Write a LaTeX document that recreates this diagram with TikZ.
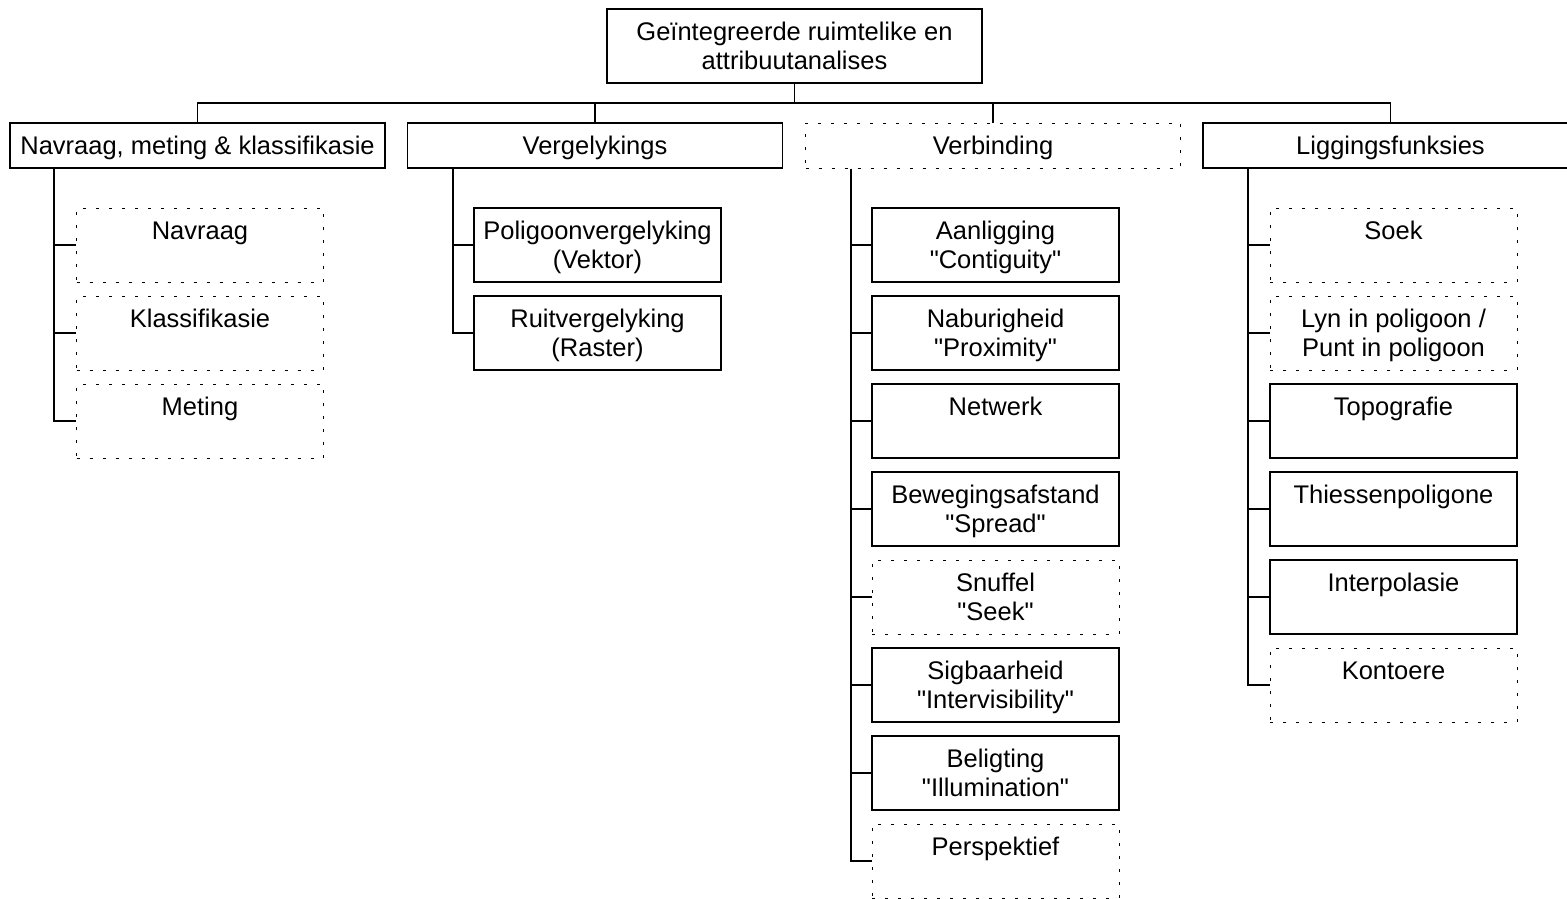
\documentclass[tikz,border=0pt]{standalone}
\usepackage{fontspec}
\setmainfont{Liberation Sans}[Ligatures=TeXOff]
\newcommand\mytab[1]{\begin{tabular}[t]{@{}c@{}}#1\end{tabular}}
\begin{document}
\begin{tikzpicture}[x=1pt,y=-1pt,
  txt/.style={inner sep=0pt, font=\fontsize{25.5}{29}\selectfont},
  two/.style={text height=20pt, text depth=31pt},
  one/.style={text height=17.6pt, text depth=0pt},
  topbox/.style={txt, two, draw, line width=1.8pt, minimum width=375pt, minimum height=74pt},
  headbox/.style={txt, one, draw, line width=1.8pt, minimum width=375pt, minimum height=45pt},
  headdot/.style={txt, one, draw, line width=1pt, dash pattern=on 3pt off 10pt, minimum width=375pt, minimum height=45pt},
  leafbox/.style={txt, two, draw, line width=1.8pt, minimum width=247pt, minimum height=74pt},
  leafdot/.style={txt, two, draw, line width=1pt, dash pattern=on 3pt off 10pt, minimum width=247pt, minimum height=74pt},
  conn/.style={draw, line width=1.8pt}]
\useasboundingbox (0,0) rectangle (1567,899);
\clip (0,0) rectangle (1567,899);
\fill[white] (0,0) rectangle (1567,899);

% top
\node[topbox] (top) at (794.5,46) {\mytab{Geïntegreerde ruimtelike en\\attribuutanalises}};
% level 1
\node[headbox] (h1) at (197.5,145.5) {Navraag, meting \& klassifikasie};
\node[headbox] (h2) at (595,145.5) {Vergelykings};
\node[headdot] (h3) at (993,145.5) {Verbinding};
\node[headbox] (h4) at (1390.5,145.5) {Liggingsfunksies};

% column 1
\node[leafdot] (a1) at (200,245) {\mytab{Navraag}};
\node[leafdot] (a2) at (200,333) {\mytab{Klassifikasie}};
\node[leafdot] (a3) at (200,421) {\mytab{Meting}};
% column 2
\node[leafbox] (b1) at (597.5,245) {\mytab{Poligoonvergelyking\\(Vektor)}};
\node[leafbox] (b2) at (597.5,333) {\mytab{Ruitvergelyking\\(Raster)}};
% column 3
\node[leafbox] (c1) at (995.5,245) {\mytab{Aanligging\\"Contiguity"}};
\node[leafbox] (c2) at (995.5,333) {\mytab{Naburigheid\\"Proximity"}};
\node[leafbox] (c3) at (995.5,421) {\mytab{Netwerk}};
\node[leafbox] (c4) at (995.5,509) {\mytab{Bewegingsafstand\\"Spread"}};
\node[leafdot] (c5) at (995.5,597) {\mytab{Snuffel\\"Seek"}};
\node[leafbox] (c6) at (995.5,685) {\mytab{Sigbaarheid\\"Intervisibility"}};
\node[leafbox] (c7) at (995.5,773) {\mytab{Beligting\\"Illumination"}};
\node[leafdot] (c8) at (995.5,861) {\mytab{Perspektief}};
% column 4
\node[leafdot] (d1) at (1393.5,245) {\mytab{Soek}};
\node[leafdot] (d2) at (1393.5,333) {\mytab{Lyn in poligoon /\\Punt in poligoon}};
\node[leafbox] (d3) at (1393.5,421) {\mytab{Topografie}};
\node[leafbox] (d4) at (1393.5,509) {\mytab{Thiessenpoligone}};
\node[leafbox] (d5) at (1393.5,597) {\mytab{Interpolasie}};
\node[leafdot] (d6) at (1393.5,685) {\mytab{Kontoere}};

% top connectors
\coordinate (bus) at (0,103);
\draw[conn] (top.south) -- (top.south |- bus);
\draw[conn] (h1.north) |- (h4.north |- bus) -- (h4.north);
\draw[conn] (h2.north) -- (h2.north |- bus);
\draw[conn] (h3.north) -- (h3.north |- bus);

% trunks
\coordinate (t1) at ([xshift=45pt]h1.south west);
\coordinate (t2) at ([xshift=46pt]h2.south west);
\coordinate (t3) at ([xshift=46pt]h3.south west);
\coordinate (t4) at ([xshift=46pt]h4.south west);

\draw[conn] (t1) |- (a3.west);
\foreach \n in {a1,a2} \draw[conn] (\n.west) -- (\n.west -| t1);
\draw[conn] (t2) |- (b2.west);
\draw[conn] (b1.west) -- (b1.west -| t2);
\draw[conn] (t3) |- (c8.west);
\foreach \n in {c1,c2,c3,c4,c5,c6,c7} \draw[conn] (\n.west) -- (\n.west -| t3);
\draw[conn] (t4) |- (d6.west);
\foreach \n in {d1,d2,d3,d4,d5} \draw[conn] (\n.west) -- (\n.west -| t4);
\end{tikzpicture}
\end{document}
